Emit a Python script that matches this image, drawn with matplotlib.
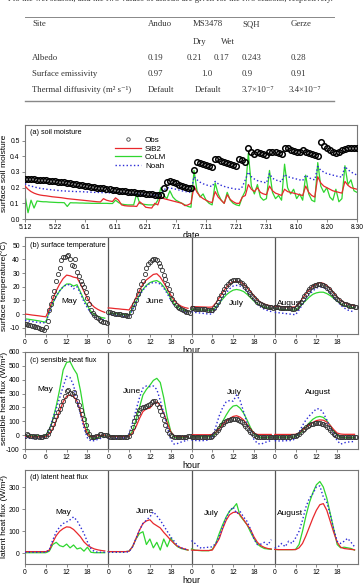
import numpy as np
import matplotlib
matplotlib.use("Agg")
import matplotlib.pyplot as plt

plt.rcParams["font.family"] = ["Liberation Sans", "DejaVu Sans"]
plt.rcParams["axes.unicode_minus"] = False

# ---------------- table (site parameters) ----------------
table_sites = ["Anduo", "MS3478", "SQH", "Gerze"]
albedo = ["0.19", "0.21", "0.17", "0.243", "0.28"]
emissivity = ["0.97", "1.0", "0.9", "0.91"]
diffusivity = ["Default", "Default", "3.7×10⁻⁷", "3.4×10⁻⁷"]

# ---------------- (a) soil moisture, daily from 5.12 ----------------
date_labels = ["5.12", "5.22", "6.1", "6.11", "6.21", "7.1", "7.11", "7.21",
               "7.31", "8.10", "8.20", "8.30"]
sm_obs = [0.258, 0.257, 0.255, 0.254, 0.252, 0.25, 0.249, 0.247, 0.245, 0.243, 0.241,
          0.239, 0.236, 0.234, 0.231, 0.228, 0.225, 0.222, 0.219, 0.216, 0.213,
          0.21, 0.207, 0.204, 0.201, 0.198, 0.195, 0.192, 0.189, 0.186, 0.183,
          0.181, 0.179, 0.177, 0.175, 0.172, 0.17, 0.168, 0.166, 0.164, 0.162,
          0.16, 0.158, 0.156, 0.155, 0.154,
          0.2, 0.235, 0.24, 0.235, 0.228, 0.22, 0.213, 0.206, 0.2, 0.196,
          0.315, 0.365, 0.36, 0.352, 0.345, 0.34, 0.335,
          0.385, 0.38, 0.372, 0.365, 0.358, 0.352, 0.346, 0.34, 0.385, 0.375, 0.365,
          0.455, 0.43, 0.415, 0.425, 0.42, 0.415, 0.41, 0.43, 0.43, 0.425, 0.42, 0.415,
          0.45, 0.455, 0.44, 0.435, 0.43, 0.43, 0.44, 0.43, 0.42, 0.415, 0.41, 0.405,
          0.49, 0.465, 0.45, 0.44, 0.425, 0.42, 0.43, 0.44, 0.445, 0.45, 0.455, 0.45, 0.45]
sm_sib2 = [0.21, 0.19, 0.175, 0.165, 0.158, 0.153, 0.15, 0.148, 0.145, 0.142, 0.14,
           0.138, 0.136, 0.133, 0.13, 0.128, 0.126, 0.124, 0.122, 0.12, 0.118,
           0.116, 0.114, 0.112, 0.11, 0.109, 0.13, 0.12, 0.115, 0.112, 0.135,
           0.12, 0.09, 0.085, 0.083, 0.082, 0.082, 0.08, 0.11, 0.095, 0.075,
           0.072, 0.07, 0.1, 0.09, 0.145,
           0.13, 0.125, 0.12, 0.115, 0.11, 0.105, 0.1, 0.085, 0.09, 0.1,
           0.21, 0.17, 0.145, 0.13, 0.12, 0.11, 0.105,
           0.175, 0.14, 0.12, 0.1, 0.155, 0.125, 0.11, 0.1, 0.1, 0.14, 0.15,
           0.22, 0.19, 0.175, 0.2, 0.17, 0.16, 0.155, 0.21, 0.18, 0.165, 0.158, 0.15,
           0.19, 0.175, 0.17, 0.165, 0.16, 0.155, 0.15, 0.21, 0.17, 0.15, 0.14,
           0.27, 0.23, 0.21, 0.2, 0.19, 0.18, 0.175, 0.17, 0.165, 0.24, 0.215, 0.2, 0.195, 0.19]
sm_colm = [0.15, 0.04, 0.12, 0.07, 0.115, 0.112, 0.11, 0.11, 0.108, 0.107, 0.106,
           0.105, 0.105, 0.104, 0.08, 0.104, 0.103, 0.103, 0.102, 0.102, 0.101,
           0.101, 0.1, 0.1, 0.1, 0.1, 0.1, 0.1, 0.099, 0.099, 0.12,
           0.105, 0.095, 0.092, 0.09, 0.09, 0.09, 0.16, 0.1, 0.095, 0.092,
           0.09, 0.09, 0.09, 0.12, 0.2,
           0.15, 0.13, 0.18, 0.14, 0.12, 0.11, 0.1, 0.09, 0.08, 0.075,
           0.31, 0.18, 0.14, 0.16, 0.12, 0.1, 0.09,
           0.23, 0.16, 0.12, 0.1, 0.17, 0.12, 0.1, 0.09, 0.085, 0.14, 0.18,
           0.42, 0.21, 0.16, 0.22, 0.14, 0.12, 0.13, 0.31, 0.17, 0.13, 0.15, 0.12,
           0.35, 0.2, 0.16, 0.19, 0.13, 0.16, 0.12, 0.28, 0.16, 0.12, 0.11,
           0.36, 0.21, 0.17, 0.2, 0.14, 0.12, 0.19, 0.11, 0.13, 0.34, 0.22, 0.25, 0.18, 0.17]
sm_noah = [0.225, 0.215, 0.21, 0.205, 0.2, 0.196, 0.193, 0.19, 0.188, 0.186, 0.184,
           0.182, 0.18, 0.179, 0.178, 0.177, 0.176, 0.175, 0.175, 0.174, 0.173,
           0.172, 0.171, 0.17, 0.17, 0.169, 0.168, 0.168, 0.167, 0.167, 0.166,
           0.165, 0.164, 0.163, 0.162, 0.161, 0.16, 0.159, 0.158, 0.157, 0.156,
           0.155, 0.154, 0.153, 0.152, 0.152,
           0.185, 0.2, 0.198, 0.194, 0.19, 0.185, 0.18, 0.176, 0.172, 0.17,
           0.27, 0.25, 0.235, 0.225, 0.218, 0.212, 0.207,
           0.24, 0.225, 0.215, 0.208, 0.202, 0.198, 0.194, 0.19, 0.19, 0.205, 0.25,
           0.3, 0.27, 0.255, 0.245, 0.24, 0.235, 0.23, 0.29, 0.26, 0.25, 0.243, 0.238,
           0.285, 0.27, 0.265, 0.26, 0.255, 0.25, 0.245, 0.28, 0.265, 0.255, 0.25,
           0.335, 0.31, 0.3, 0.29, 0.285, 0.28, 0.275, 0.27, 0.268, 0.335, 0.315, 0.3, 0.29, 0.28]

# ---------------- (b) surface temperature, diurnal ----------------
months = ["May", "June", "July", "August"]
tsfc_obs = [
    [-7.2, -7.6, -8.0, -8.3, -8.7, -9.0, -9.4, -9.8, -10.2, -10.6, -11.0, -11.5, -9.5, -5, 3, 7.5,
     12.5, 17, 24, 29, 34, 39.5, 41.5, 42, 42.5, 43, 40.5, 36, 35.4, 40, 31, 28,
     24, 22, 19.5, 16, 12, 7.5, 3, 1, -0.5, -2, -3, -4, -5, -5.5, -6, -6.5],
    [1.5, 1.2, 1.0, 0.7, 0.4, 0.2, 0, -0.3, -0.5, -0.8, -1.0, -1.3, -1.5, 1.5, 4.5, 7,
     10.5, 14.5, 17.5, 22, 24.5, 29, 34, 36.5, 37.8, 39.5, 40.2, 40.2, 39.5, 37.5, 35, 32,
     28.5, 25.5, 22, 18.5, 14.5, 11, 8.5, 6.5, 5, 4.2, 3.5, 3, 2.3, 1.8, 1.3, 0.9],
    [4.2, 4.1, 4.0, 3.9, 3.8, 3.7, 3.6, 3.5, 3.4, 3.3, 3.2, 3.1, 3.3, 4.5, 6.5, 9,
     11.5, 14, 16.5, 18.5, 20.5, 22, 23.2, 24, 24.6, 25, 25, 24.6, 23.8, 22.5, 21, 19.5,
     18, 16.3, 14.6, 13, 11.5, 10.2, 9, 8, 7.2, 6.6, 6.1, 5.7, 5.4, 5.1, 4.9, 4.7],
    [5, 4.9, 4.8, 4.7, 4.6, 4.5, 4.4, 4.3, 4.2, 4.1, 4.0, 3.9, 4.2, 5.5, 7, 9,
     11, 13, 15, 16.8, 18.3, 19.5, 20.5, 21.2, 21.6, 21.8, 21.8, 21.5, 21, 20.2, 19.2, 18,
     16.7, 15.3, 14, 12.6, 11.3, 10.1, 9.1, 8.3, 7.6, 7, 6.6, 6.2, 5.9, 5.6, 5.4, 5.2],
]
tsfc_sib2 = [
    [0, -0.3, -0.7, -1.0, -1.3, -1.7, -2.0, 3.5, 11, 17, 22, 26, 28.5, 28, 27, 26.5, 22, 16.5, 11.5, 7.5, 5, 3.4, 2.2, 1.2],
    [4.5, 4.3, 4.0, 3.8, 3.5, 3.3, 3.0, 7, 12, 17, 22, 25, 27, 29, 29.5, 27, 23, 18.5, 14, 10, 7.5, 5.8, 4.8, 4.2],
    [5.5, 5.4, 5.3, 5.2, 5.1, 5.0, 5.2, 8, 12, 16, 19.5, 22, 23.5, 24, 23.5, 22, 19.5, 16.5, 13.5, 10.5, 8.5, 7.3, 6.5, 6],
    [5.8, 5.6, 5.5, 5.3, 5.2, 5.1, 5.3, 8, 11.5, 15, 18, 20.5, 22, 23, 22.5, 21, 18.5, 15.5, 12.5, 10, 8.5, 7.5, 6.8, 6.2],
]
tsfc_colm = [
    [-3.5, -3.8, -4.2, -4.6, -5.0, -5.5, -6, 2, 8, 13, 17, 20, 22, 22, 20.5, 21.5, 16, 10.5, 6, 2, -0.5, -1.8, -2.5, -3],
    [0.8, 0.5, 0.3, 0, -0.3, -0.5, -0.5, 4, 9, 14, 18, 21, 23, 24, 24.5, 23, 20, 16, 11.5, 7.5, 5, 3.5, 2.5, 2],
    [3.5, 3.3, 3.1, 3.0, 2.8, 2.7, 2.8, 5, 8, 11, 14, 16, 17.5, 18, 17.5, 16.5, 14.5, 12, 9.5, 7.5, 6, 5, 4.5, 4],
    [3.8, 3.6, 3.4, 3.2, 3.0, 2.9, 3.0, 5, 7.5, 10, 12.5, 14.5, 15.5, 16, 16, 15, 13.5, 11.5, 9.5, 7.5, 6.3, 5.5, 5, 4.5],
]
tsfc_noah = [
    [-4.5, -5, -5.4, -5.8, -6.2, -6.6, -6, 1, 8, 13, 17, 20, 21.5, 21.5, 18.5, 20, 15, 9, 4.5, 0.5, -2, -3, -3.8, -4.3],
    [-0.3, -0.7, -1, -1.3, -1.6, -2.0, -2, 3, 8.5, 13.5, 17.5, 20.5, 22.5, 23, 23, 22, 19, 15, 10.5, 6.5, 4, 2.5, 1.5, 1],
    [1.5, 1.2, 0.9, 0.6, 0.3, 0, 0, 4, 8, 12, 15.5, 18.5, 20.5, 21, 20.5, 19, 16.5, 13.5, 10, 7, 5, 3.5, 2.5, 1.8],
    [1.2, 1.0, 0.7, 0.4, 0.1, -0.2, -0.5, 3, 7, 11, 14.5, 17, 19, 20, 19.5, 18, 15.5, 12.5, 9.5, 6.5, 4.5, 3, 2.2, 1.5],
]

# ---------------- (c) sensible heat flux ----------------
shf_obs = [
    [-5, 5, 0, -5, -8, -5, -10, -8, -10, -12, -10, -8, -5, 10, 30, 55,
     80, 110, 140, 165, 190, 215, 250, 285, 320, 325, 305, 300, 310, 280, 250, 220,
     185, 150, 115, 70, 30, 5, -10, -15, -10, -5, -3, 5, 5, 0, 3, 0],
    [-8, -10, -10, -12, -12, -10, -12, -12, -13, -12, -12, -10, -5, 20, 60, 100,
     130, 160, 185, 195, 200, 205, 210, 215, 225, 240, 250, 245, 225, 205, 175, 145,
     110, 75, 40, 15, 0, -8, -12, -15, -15, -14, -12, -12, -10, -10, -8, -8],
    [-10, -10, -10, -12, -12, -12, -12, -12, -12, -12, -12, -10, -5, 5, 20, 40,
     55, 70, 82, 92, 102, 108, 112, 115, 118, 118, 115, 110, 102, 92, 80, 68,
     55, 40, 25, 12, 2, -5, -10, -12, -14, -15, -15, -15, -14, -13, -12, -12],
    [-10, -10, -10, -10, -10, -10, -10, -10, -10, -10, -9, -8, -6, 0, 10, 22,
     35, 47, 58, 67, 74, 79, 83, 85, 86, 86, 85, 82, 77, 70, 60, 48,
     35, 22, 10, 0, -6, -10, -12, -12, -12, -12, -11, -11, -10, -10, -10, -10],
]
shf_sib2 = [
    [-10, -12, -12, -12, -12, -12, -10, 10, 45, 105, 175, 240, 280, 290, 280, 245, 170, 70, 10, -12, -8, -4, -2, 0],
    [-10, -10, -10, -10, -10, -10, -8, 15, 60, 120, 170, 190, 195, 225, 240, 215, 160, 90, 25, -5, -10, -10, -10, -10],
    [3, 3, 3, 3, 3, 3, 5, 20, 45, 75, 100, 120, 135, 140, 130, 110, 80, 45, 15, 5, 5, 5, 5, 5],
    [5, 5, 5, 5, 5, 5, 6, 15, 35, 55, 75, 92, 105, 110, 108, 95, 70, 40, 15, 8, 6, 6, 6, 6],
]
shf_colm = [
    [-5, -5, -5, -5, -5, -5, 0, 40, 110, 210, 330, 470, 525, 530, 480, 440, 320, 170, 40, -20, -25, -18, -10, -5],
    [-8, -8, -8, -8, -8, -8, -5, 30, 110, 200, 290, 330, 360, 395, 410, 380, 270, 130, 30, -15, -20, -18, -15, -12],
    [-12, -12, -12, -12, -12, -12, -8, 15, 55, 100, 145, 185, 210, 215, 195, 160, 110, 55, 10, -12, -18, -18, -15, -15],
    [-15, -15, -15, -15, -15, -15, -10, 5, 30, 60, 90, 115, 130, 135, 128, 105, 70, 30, 0, -15, -18, -18, -18, -18],
]
shf_noah = [
    [-20, -22, -25, -25, -22, -22, -10, 40, 120, 190, 270, 350, 425, 415, 360, 250, 150, 50, -20, -42, -40, -30, -22, -15],
    [-25, -25, -25, -22, -22, -20, 10, 90, 180, 270, 340, 355, 350, 355, 330, 250, 160, 60, -30, -65, -60, -50, -42, -38],
    [-35, -38, -40, -40, -38, -35, -20, 60, 140, 200, 240, 250, 245, 290, 250, 170, 90, 20, -30, -60, -65, -55, -45, -40],
    [-40, -42, -42, -40, -40, -38, -25, 20, 70, 110, 140, 165, 190, 190, 160, 110, 55, 5, -40, -65, -55, -50, -48, -45],
]

# ---------------- (d) latent heat flux ----------------
lhf_sib2 = [
    [8, 8, 8, 8, 8, 8, 8, 15, 50, 80, 100, 112, 120, 118, 108, 92, 75, 52, 37, 27, 20, 16, 13, 11],
    [8, 8, 8, 8, 8, 8, 10, 30, 67, 105, 135, 147, 152, 135, 125, 115, 95, 78, 60, 45, 32, 25, 20, 15],
    [15, 14, 14, 13, 13, 13, 15, 40, 67, 112, 150, 175, 185, 187, 175, 153, 130, 108, 75, 50, 35, 27, 22, 20],
    [18, 17, 17, 17, 17, 17, 17, 25, 45, 80, 120, 160, 195, 220, 225, 195, 145, 95, 50, 28, 22, 20, 18, 16],
]
lhf_colm = [
    [3, 3, 3, 3, 3, 3, 3, 10, 40, 50, 35, 30, 42, 25, 38, 20, 25, 10, 28, 5, 3, 3, 3, 3],
    [8, 8, 8, 8, 8, 8, 10, 30, 65, 90, 98, 40, 65, 25, 50, 15, 65, 30, 70, 45, 30, 22, 18, 15],
    [20, 15, 13, 12, 12, 12, 18, 45, 90, 130, 165, 192, 205, 225, 170, 150, 130, 97, 67, 42, 30, 22, 20, 18],
    [18, 17, 17, 17, 17, 17, 18, 40, 100, 170, 230, 275, 310, 325, 300, 250, 180, 110, 40, 25, 28, 25, 22, 15],
]
lhf_noah = [
    [5, 5, 5, 5, 5, 5, 5, 15, 60, 97, 120, 135, 142, 152, 165, 148, 120, 90, 52, 22, 8, 5, 5, 5],
    [5, 5, 5, 5, 5, 5, 8, 30, 67, 105, 135, 150, 165, 188, 170, 150, 125, 100, 75, 55, 35, 25, 20, 15],
    [58, 45, 30, 22, 28, 27, 30, 45, 75, 120, 160, 190, 210, 180, 190, 165, 145, 110, 65, 40, 42, 50, 38, 62],
    [25, 30, 45, 30, 55, 45, 70, 100, 150, 210, 250, 270, 300, 305, 255, 230, 175, 110, 55, 45, 55, 68, 50, 30],
]

for s in tsfc_obs + shf_obs:
    assert len(s) == 48
for s in tsfc_sib2 + tsfc_colm + tsfc_noah + shf_sib2 + shf_colm + shf_noah + lhf_sib2 + lhf_colm + lhf_noah:
    assert len(s) == 24
assert len(sm_obs) == len(sm_sib2) == len(sm_colm) == len(sm_noah) == 111

C_SIB2 = "#e8282c"
C_COLM = "#2fd62f"
C_NOAH = "#2b2bd6"
SPINE = "#777777"
TICK_FS = 4.9
LAB_FS = 6

fig = plt.figure(figsize=(3.64, 5.87), dpi=100)
W, H = 364.0, 587.0


def px_axes(left, top, right, bottom):
    return fig.add_axes([left / W, 1 - bottom / H, (right - left) / W, (bottom - top) / H])


def style_axes(ax):
    for sp in ax.spines.values():
        sp.set_color(SPINE)
        sp.set_linewidth(0.8)
    ax.tick_params(labelsize=TICK_FS, length=2.5, width=0.6, pad=1.3, color=SPINE)


# ----- cut-off caption line and table -----
serif = ["Liberation Serif", "DejaVu Serif"]
fig.text(333 / W, 1 - 0.8 / H, "l to the wet season, and the two values of albedo are given for the two seasons, respectively.",
         ha="right", va="baseline", fontsize=6.3, family=serif, color="#333333")
fig.add_artist(plt.Line2D([25 / W, 334 / W], [1 - 16.5 / H] * 2, color="#888888", lw=0.7))
fig.add_artist(plt.Line2D([25 / W, 334 / W], [1 - 101 / H] * 2, color="#888888", lw=1.0))


def ttext(x, y, s, ha="left"):
    fig.text(x / W, 1 - y / H, s, ha=ha, va="center", fontsize=6.3, family=serif, color="#333333")


ttext(32, 24, "Site")
for xx, s in zip([148, 208, 242, 291], table_sites):
    ttext(xx, 24, s, ha="left" if s != "MS3478" else "center")
ttext(193, 42, "Dry")
ttext(221, 42, "Wet")
ttext(32, 58, "Albedo")
for xx, s in zip([148, 187, 214, 242, 291], albedo):
    ttext(xx, 58, s)
ttext(32, 74, "Surface emissivity")
ttext(148, 74, emissivity[0])
ttext(207, 74, emissivity[1], ha="center")
ttext(242, 74, emissivity[2])
ttext(291, 74, emissivity[3])
ttext(32, 90, "Thermal diffusivity (m² s⁻¹)")
ttext(148, 90, diffusivity[0])
ttext(208, 90, diffusivity[1], ha="center")
ttext(242, 90, diffusivity[2])
ttext(289, 90, diffusivity[3])

# ----- (a) soil moisture -----
days = np.arange(len(sm_obs))
ax_a = px_axes(25, 125, 357, 219)
ax_a.plot(days, sm_obs, "o", ms=4.0, mfc="none", mec="black", mew=1.1, label="Obs", zorder=4)
ax_a.plot(days, sm_sib2, color=C_SIB2, lw=0.9, label="SiB2", zorder=3)
ax_a.plot(days, sm_colm, color=C_COLM, lw=0.9, label="CoLM", zorder=2)
ax_a.plot(days, sm_noah, color=C_NOAH, lw=1.0, ls=":", label="Noah", zorder=3)
ax_a.set_xlim(0, 110)
ax_a.set_ylim(0, 0.6)
ax_a.set_yticks([0, 0.1, 0.2, 0.3, 0.4, 0.5])
ax_a.set_yticklabels(["0.0", "0.1", "0.2", "0.3", "0.4", "0.5"])
ax_a.set_xticks(np.arange(0, 111, 10))
ax_a.set_xticklabels(date_labels)
style_axes(ax_a)
ax_a.set_ylabel("surface soil moisture", fontsize=LAB_FS)
ax_a.yaxis.set_label_coords(-0.052, 0.49)
ax_a.set_xlabel("date", fontsize=LAB_FS + 0.4)
ax_a.xaxis.set_label_coords(0.5, -0.13)
ax_a.text(0.015, 0.915, "(a) soil moisture", transform=ax_a.transAxes, fontsize=5.2, va="center")
leg = ax_a.legend(loc="upper left", bbox_to_anchor=(0.255, 0.94), frameon=False, fontsize=5.8,
                  handlelength=3.2, labelspacing=0.12, handletextpad=0.5, borderpad=0.2)
leg.legend_handles[0].set_markeredgecolor("#444444")
leg.legend_handles[0].set_markersize(2.5)
leg.legend_handles[0].set_markeredgewidth(0.6)

# ----- diurnal panels -----
hours = np.arange(24)
half_hours = np.arange(0, 24, 0.5)


def diurnal_panel(top, bottom, ylim, yticks, obs, sib2, colm, noah, tag, ylabel, label_y, month_pos):
    ax = px_axes(25, top, 358, bottom)
    for m in range(4):
        off = 24 * m
        if obs is not None:
            ax.plot(half_hours + off, obs[m], "o", ms=3.0, mfc="none", mec="#333333", mew=0.6, zorder=5)
        ax.plot(hours + off, sib2[m], color=C_SIB2, lw=0.9, zorder=3)
        ax.plot(hours + off, colm[m], color=C_COLM, lw=0.9, zorder=2)
        ax.plot(hours + off, noah[m], color=C_NOAH, lw=1.0, ls=":", zorder=4)
        ax.text(month_pos[m][0], month_pos[m][1], months[m], fontsize=6, ha="center", va="center")
    for b in (24, 48, 72):
        ax.axvline(b, color="#555555", lw=0.9, zorder=1)
    ax.set_xlim(0, 96)
    ax.set_ylim(*ylim)
    ax.set_yticks(yticks)
    ax.set_xticks(np.arange(0, 96, 6))
    ax.set_xticklabels(["0", "6", "12", "18"] * 4)
    style_axes(ax)
    ax.set_ylabel(ylabel, fontsize=LAB_FS)
    ax.yaxis.set_label_coords(-0.052, label_y)
    ax.set_xlabel("hour", fontsize=LAB_FS + 0.4)
    ax.xaxis.set_label_coords(0.5, -0.125)
    ax.text(0.015, 0.915, tag, transform=ax.transAxes, fontsize=5.2, va="center")
    return ax


diurnal_panel(237, 334, (-14.6, 56.4), np.arange(-10, 51, 10), tsfc_obs, tsfc_sib2, tsfc_colm, tsfc_noah,
              "(b) surface temperature", "surface temperature(°C)", 0.5,
              [(12.8, 9), (37.5, 9), (61, 7.5), (76.4, 7.5)])
diurnal_panel(352, 449, (-100, 600), np.arange(-100, 601, 100), shf_obs, shf_sib2, shf_colm, shf_noah,
              "(c) sensible heat flux", "sensible heat flux (W/m²)", 0.52,
              [(5.8, 330), (30.7, 313), (60.5, 311), (84.5, 306)])
diurnal_panel(470, 564, (-48, 377), [0, 100, 200, 300], None, lhf_sib2, lhf_colm, lhf_noah,
              "(d) latent heat flux", "latent heat flux (W/m²)", 0.51,
              [(11, 185), (34.6, 188), (53.8, 181), (76.4, 181)])

fig.savefig("out.png", dpi=100)
